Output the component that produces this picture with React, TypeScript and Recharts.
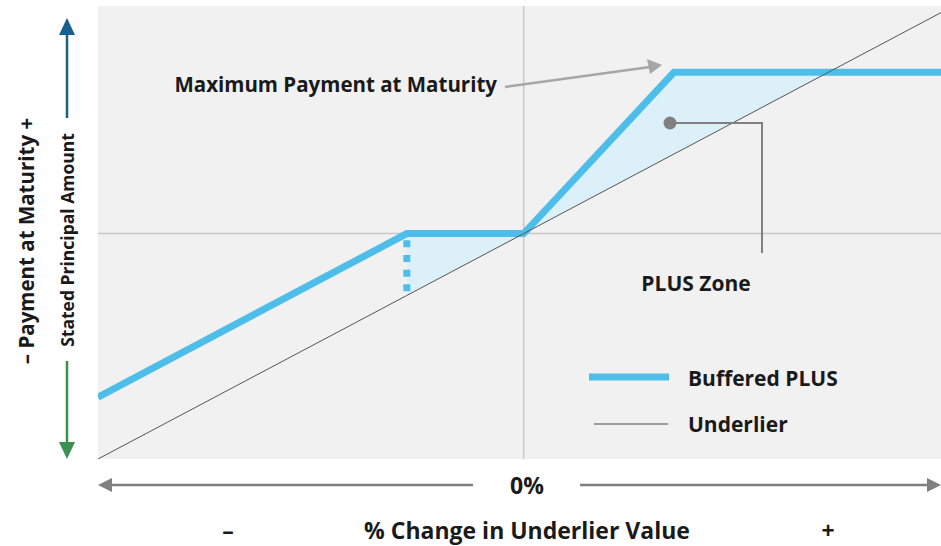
import React from 'react';
import {
  ComposedChart,
  Line,
  Area,
  XAxis,
  YAxis,
  CartesianGrid,
  ReferenceLine,
} from 'recharts';

// % change in underlier value (x) and payment at maturity (y, 100 = stated principal)
const changes = [-102, -28, 0, 36, 73, 100];
const underlier = [-2, 72, 100, 136, 173, 200];
const bufferedPlus = [26, 100, 100, 173, 173, 173];
const zoneLow = [null, 72, 100, 136, 173, null];
const zoneHigh = [null, 100, 100, 173, 173, null];

const bufferLevel = -28;

const data = changes.map((x, i) => ({
  x,
  underlier: underlier[i],
  buffered: bufferedPlus[i],
  zone: zoneLow[i] === null ? null : [zoneLow[i], zoneHigh[i]],
}));

const W = 941;
const H = 546;
const BLUE = '#4dbee9';
const FONT = '"Open Sans", "Noto Sans", sans-serif';
const INK = '#1a1a1a';

// callouts, legend and axis arrows drawn on top of the chart
const Overlay = () => (
  <svg
    width={W}
    height={H}
    style={{ position: 'absolute', left: 0, top: 0, pointerEvents: 'none' }}
  >
    <g fontFamily={FONT} fill={INK} fontWeight={700}>
      <text x={497} y={92} textAnchor="end" fontSize={20.5}>
        Maximum Payment at Maturity
      </text>
      <line x1={505} y1={87} x2={650} y2={67} stroke="#a6a6a6" strokeWidth={2.5} />
      <polygon points="662,65 647,59 650,74" fill="#a6a6a6" />

      <circle cx={670} cy={123} r={6.5} fill="#808080" />
      <polyline points="670,123 762,123 762,253" fill="none" stroke="#808080" strokeWidth={2} />
      <text x={696} y={291} textAnchor="middle" fontSize={21}>
        PLUS Zone
      </text>

      <line x1={589} y1={377} x2={669} y2={377} stroke={BLUE} strokeWidth={7} />
      <text x={688} y={386} fontSize={21}>Buffered PLUS</text>
      <line x1={594} y1={424} x2={668} y2={424} stroke="#808080" strokeWidth={1.5} />
      <text x={688} y={432} fontSize={21}>Underlier</text>

      <line x1={67} y1={32} x2={67} y2={118} stroke="#1a5e8e" strokeWidth={2.5} />
      <polygon points="67,18 59,35 75,35" fill="#1a5e8e" />
      <line x1={67} y1={361} x2={67} y2={445} stroke="#3a9150" strokeWidth={2.5} />
      <polygon points="67,459 59,442 75,442" fill="#3a9150" />
      <text
        x={74}
        y={240}
        transform="rotate(-90 74 240)"
        textAnchor="middle"
        fontSize={17.5}
      >
        Stated Principal Amount
      </text>
      <text
        x={34}
        y={241}
        transform="rotate(-90 34 241)"
        textAnchor="middle"
        fontSize={20.5}
      >
        – Payment at Maturity +
      </text>

      <line x1={108} y1={485} x2={473} y2={485} stroke="#808080" strokeWidth={2.5} />
      <polygon points="98,485 112,478 112,492" fill="#808080" />
      <line x1={580} y1={485} x2={930} y2={485} stroke="#808080" strokeWidth={2.5} />
      <polygon points="941,485 927,478 927,492" fill="#808080" />
      <text x={527} y={494} textAnchor="middle" fontSize={23}>0%</text>
      <text x={228} y={539} textAnchor="middle" fontSize={23}>–</text>
      <text x={527} y={539} textAnchor="middle" fontSize={23}>
        % Change in Underlier Value
      </text>
      <text x={828} y={539} textAnchor="middle" fontSize={23}>+</text>
    </g>
  </svg>
);

export default function App() {
  return (
    <div style={{ position: 'absolute', left: 0, top: 0, width: W, height: H, background: '#fff' }}>
      <ComposedChart
        width={W}
        height={H}
        data={data}
        margin={{ top: 6, right: 0, left: 98, bottom: 87 }}
      >
        <CartesianGrid horizontal={false} vertical={false} fill="#f1f1f1" fillOpacity={1} />
        <XAxis type="number" dataKey="x" domain={[-102, 100]} hide allowDataOverflow />
        <YAxis type="number" domain={[-2, 203]} hide allowDataOverflow />
        <ReferenceLine x={0} stroke="#c8c8c8" strokeWidth={1.5} />
        <ReferenceLine y={100} stroke="#c8c8c8" strokeWidth={1.5} />
        <Area
          dataKey="zone"
          stroke="none"
          fill="#dcf0f9"
          fillOpacity={1}
          isAnimationActive={false}
          activeDot={false}
        />
        <ReferenceLine
          segment={[
            { x: bufferLevel, y: 97 },
            { x: bufferLevel, y: 72 },
          ]}
          stroke={BLUE}
          strokeWidth={7}
          strokeDasharray="7 7.7"
        />
        <Line
          dataKey="buffered"
          stroke={BLUE}
          strokeWidth={7}
          dot={false}
          activeDot={false}
          strokeLinejoin="miter"
          isAnimationActive={false}
        />
        <Line
          dataKey="underlier"
          stroke="#555555"
          strokeWidth={1}
          dot={false}
          activeDot={false}
          isAnimationActive={false}
        />
      </ComposedChart>
      <Overlay />
    </div>
  );
}
